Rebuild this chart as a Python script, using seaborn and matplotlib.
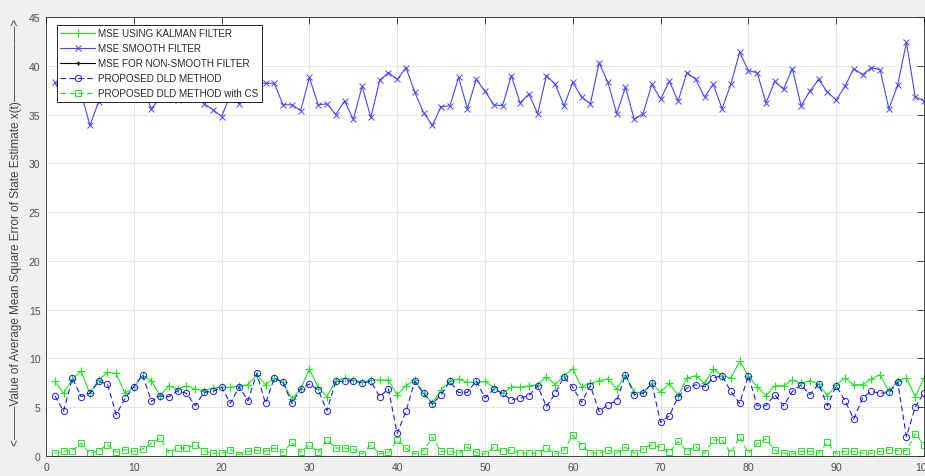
import numpy as np
import matplotlib
matplotlib.use("Agg")
import matplotlib.pyplot as plt
import seaborn as sns

# data (x = 1..100)
runs = np.arange(1, 101)

kalman = [7.65, 6.42, 7.9, 8.68, 6.42, 7.79, 8.57, 8.46, 6.42, 7.04,
          8.23, 7.72, 6.18, 7.2, 6.87, 7.2, 6.87, 6.69, 6.97, 7.04,
          7.04, 7.2, 7.3, 8.33, 7.3, 7.99, 7.55, 5.84, 6.87, 8.91,
          7.04, 6.08, 7.72, 7.99, 7.79, 7.55, 7.79, 7.79, 7.79, 6.28,
          7.2, 7.79, 6.42, 5.4, 6.76, 7.72, 7.9, 7.55, 7.55, 7.65,
          7.04, 6.42, 7.1, 7.04, 7.2, 7.3, 8.12, 7.3, 8.23, 8.91,
          7.1, 7.45, 7.72, 7.9, 6.87, 8.33, 6.52, 6.52, 7.45, 6.52,
          7.45, 6.18, 7.99, 8.23, 7.45, 8.91, 8.23, 7.99, 9.7, 8.23,
          7.1, 6.18, 7.2, 7.2, 7.79, 7.45, 7.72, 7.38, 6.18, 7.3,
          7.99, 7.3, 7.3, 7.9, 8.33, 6.62, 7.72, 7.99, 6.08, 7.99]

smooth = [38.3, 36.7, 38.0, 37.2, 33.9, 36.3, 38.5, 37.5, 36.6, 37.5,
          37.8, 35.6, 36.7, 37.2, 36.5, 37.3, 37.0, 36.1, 35.5, 34.8,
          37.0, 36.1, 37.5, 38.3, 38.2, 38.2, 36.0, 36.0, 35.4, 38.8,
          36.0, 36.1, 35.0, 36.4, 34.5, 37.9, 34.7, 38.5, 39.3, 38.6,
          39.8, 37.3, 35.2, 33.9, 35.8, 35.9, 38.8, 35.6, 38.6, 37.4,
          36.0, 35.9, 39.0, 36.2, 37.1, 35.1, 39.0, 38.1, 35.9, 38.3,
          36.8, 36.1, 40.3, 38.3, 35.1, 37.8, 34.5, 35.1, 38.1, 36.6,
          38.4, 36.4, 39.3, 38.6, 36.8, 38.1, 35.6, 38.1, 41.4, 39.5,
          39.3, 36.2, 38.4, 37.6, 39.7, 35.9, 37.4, 38.6, 37.3, 36.5,
          37.9, 39.7, 39.1, 39.8, 39.6, 35.6, 38.0, 42.4, 36.8, 36.4]

# non-smooth filter curve does not show in the figure, only in the legend
nonsmooth = []

dld = [6.18, 4.58, 7.99, 6.08, 6.42, 7.65, 7.38, 4.23, 5.91, 7.1,
       8.33, 5.6, 6.18, 6.08, 6.69, 6.42, 5.15, 6.52, 6.62, 7.04,
       5.4, 7.1, 5.67, 8.46, 5.4, 7.99, 7.55, 5.4, 6.87, 7.38,
       6.76, 4.64, 7.65, 7.65, 7.72, 7.48, 7.65, 6.08, 6.87, 2.32,
       4.58, 7.65, 6.42, 5.33, 6.28, 7.65, 6.52, 6.52, 7.72, 5.94,
       6.87, 6.42, 5.74, 5.94, 6.18, 7.2, 5.05, 6.42, 8.12, 7.04,
       5.5, 7.2, 4.58, 5.26, 5.67, 8.33, 6.28, 6.42, 7.45, 3.45,
       4.13, 6.08, 6.97, 7.3, 7.1, 7.99, 8.23, 6.62, 5.4, 8.23,
       5.15, 5.15, 6.28, 5.15, 6.62, 7.3, 6.28, 7.38, 5.15, 7.2,
       5.67, 3.79, 5.94, 6.62, 6.42, 6.52, 7.55, 1.98, 5.0, 6.5]

dld_cs = [0.27, 0.48, 0.55, 1.3, 0.27, 0.55, 1.16, 0.38, 0.65, 0.48,
          0.72, 1.3, 1.81, 0.3, 0.82, 0.82, 1.16, 0.55, 0.27, 0.27,
          0.65, 0.14, 0.48, 0.62, 0.48, 0.82, 0.38, 1.4, 0.38, 1.16,
          0.38, 1.64, 0.82, 0.82, 0.72, 0.2, 1.16, 0.2, 0.38, 1.64,
          0.79, 0.2, 0.55, 1.91, 0.48, 0.48, 0.27, 0.89, 0.38, 0.2,
          0.89, 0.48, 0.62, 0.3, 0.3, 0.27, 0.82, 0.2, 0.62, 2.15,
          1.06, 0.3, 0.3, 0.62, 0.3, 0.89, 0.3, 0.72, 1.16, 0.89,
          0.38, 1.5, 0.48, 0.96, 0.27, 1.64, 1.64, 0.3, 1.98, 0.3,
          1.3, 1.74, 0.62, 0.27, 0.2, 0.48, 0.48, 0.3, 1.4, 0.2,
          0.48, 0.48, 0.3, 0.27, 0.48, 0.65, 0.55, 0.55, 2.25, 1.16]

labels = ['MSE USING KALMAN FILTER', 'MSE SMOOTH FILTER', 'MSE FOR NON-SMOOTH FILTER',
          'PROPOSED DLD METHOD', 'PROPOSED DLD METHOD with CS']

sns.set_style("whitegrid")
plt.rcParams['font.family'] = ['Liberation Sans', 'DejaVu Sans']

GREEN = '#1ee61e'
BLUE = '#1a1aff'
LBLUE = '#4646ff'

fig = plt.figure(figsize=(9.25, 4.77), dpi=100, facecolor='#f0f0f0')
ax = fig.add_axes([46/925, 20/477, 878/925, 439/477])
ax.set_facecolor('white')

sns.lineplot(x=runs, y=kalman, ax=ax, color=GREEN, lw=0.8, marker='+', markersize=6,
             markeredgecolor=GREEN, markeredgewidth=0.8, label=labels[0])
sns.lineplot(x=runs, y=smooth, ax=ax, color=LBLUE, lw=0.8, marker='x', markersize=4.5,
             markeredgecolor=LBLUE, markeredgewidth=0.7, label=labels[1])
ax.plot(nonsmooth, nonsmooth, color='black', lw=0.8, marker='+', markersize=3, label=labels[2])
sns.lineplot(x=runs, y=dld, ax=ax, color=BLUE, lw=0.8, dashes=False, marker='o', markersize=4.5,
             markerfacecolor='none', markeredgecolor=BLUE, markeredgewidth=0.7, label=labels[3])
sns.lineplot(x=runs, y=dld_cs, ax=ax, color=GREEN, lw=0.8, dashes=False, marker='s', markersize=4,
             markerfacecolor='none', markeredgecolor=GREEN, markeredgewidth=0.7, label=labels[4])
# matlab style long dashes
for ln in ax.lines[3:5]:
    ln.set_dashes((5, 3))

ax.set_xlim(0, 100)
ax.set_ylim(0, 45)
ax.set_xticks(np.arange(0, 101, 10))
ax.set_yticks(np.arange(0, 46, 5))
ax.grid(True, color='#e3e3e3', lw=0.6)
for s in ax.spines.values():
    s.set_color('#262626')
    s.set_linewidth(0.6)
ax.tick_params(direction='in', length=5, width=0.6, color='#262626',
               top=True, right=True, labelsize=7.5, labelcolor='#4d4d4d', pad=4)

leg = ax.legend(loc='upper left', bbox_to_anchor=(0.0125, 0.982), borderaxespad=0,
                fontsize=7.1, labelspacing=0.5, handlelength=3.5, handletextpad=0.3,
                borderpad=0.35, fancybox=False, framealpha=1, edgecolor='black')
leg.get_frame().set_linewidth(0.6)
for h in leg.get_lines()[3:5]:
    h.set_dashes((5, 3))

ylab = '<' + '\u2500' * 4 + 'Value of Average Mean Square Error of State Estimate x(t)' + '\u2500' * 9 + '>'
fig.text(16/925, 0.512, ylab, rotation=90, va='center', ha='center', fontsize=8.5, color='#404040')

fig.savefig('out.png', dpi=100, facecolor=fig.get_facecolor())
